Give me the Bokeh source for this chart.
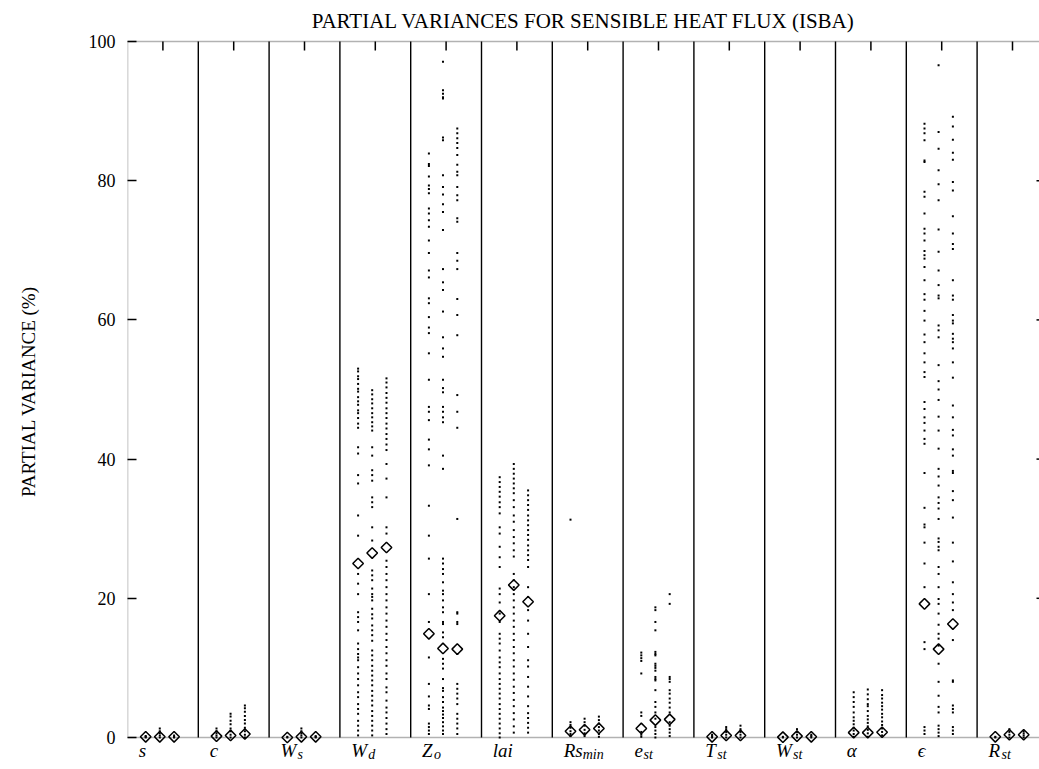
import numpy as np
from bokeh.plotting import figure
from bokeh.models import Range1d, LinearAxis, FixedTicker, BoxAnnotation
from bokeh.core.properties import value
from bokeh.embed import file_html
from bokeh.resources import INLINE

# ---------------- data ----------------
title_text = "PARTIAL VARIANCES FOR SENSIBLE HEAT FLUX (ISBA)"
y_label = "PARTIAL VARIANCE (%)"
y_ticks = [0, 20, 40, 60, 80, 100]

# parameter symbols (main part, subscript)
param_main = ["s", "c", "W", "W", "Z", "lai", "Rs", "e", "T", "W", "α", "ϵ", "R"]
param_sub = ["", "", "s", "d", "o", "", "min", "st", "st", "st", "", "", "st"]

# mean partial variance (diamonds), three runs per parameter
mean_run1 = [0.1, 0.2, 0.0, 25.0, 14.9, 17.5, 0.9, 1.3, 0.1, 0.05, 0.7, 19.2, 0.1]
mean_run2 = [0.1, 0.3, 0.1, 26.5, 12.8, 21.9, 1.1, 2.5, 0.3, 0.2, 0.7, 12.7, 0.4]
mean_run3 = [0.1, 0.5, 0.1, 27.3, 12.7, 19.5, 1.3, 2.6, 0.3, 0.1, 0.75, 16.3, 0.4]

# individual partial variances (dots), three runs per parameter
s_dots = [[0.0, 0.1, 0.2], [0.0, 0.3, 0.6, 0.9, 1.3], [0.0, 0.1, 0.3]]
c_dots = [[0.0, 0.3, 0.6, 0.9, 1.3],
          [0.0, 0.4, 0.9, 1.3, 1.9, 2.4, 3.0, 3.4],
          [0.0, 0.4, 0.9, 1.4, 2.0, 2.5, 3.1, 3.7, 4.2, 4.6]]
Ws_dots = [[0.0, 0.1], [0.0, 0.3, 0.6, 0.9, 1.3], [0.0, 0.1, 0.2]]
Wd_dots = [
    [53.0, 52.6, 51.9, 51.5, 50.8, 50.1, 49.7, 48.9, 48.3, 47.8, 47.0, 46.6, 45.9, 45.1, 44.5,
     41.7, 40.8, 37.7, 36.5, 31.9, 29.0, 23.5, 22.1, 20.6, 18.0, 17.3, 16.6, 15.4, 13.5, 12.7,
     12.0, 11.5, 11.1, 10.1, 9.2, 8.4, 7.5, 6.5, 5.8, 4.8, 4.1, 3.4, 2.4, 1.7, 1.0, 0.3],
    [49.9, 49.3, 48.6, 48.0, 47.3, 46.6, 46.0, 45.3, 44.7, 44.1, 41.7, 40.5, 38.4, 37.7, 36.9,
     34.5, 33.8, 33.1, 30.2, 28.3, 24.0, 23.3, 22.6, 21.4, 20.6, 20.2, 19.7, 18.5, 17.7, 17.1,
     16.1, 15.4, 14.7, 13.9, 12.5, 11.8, 11.1, 10.3, 9.6, 8.9, 8.2, 7.5, 6.7, 6.0, 5.3, 4.6,
     3.8, 3.1, 2.4, 1.7, 1.0, 0.3],
    [51.6, 51.0, 50.3, 49.5, 48.8, 48.1, 47.3, 46.6, 45.9, 45.1, 44.4, 43.6, 42.9, 42.1, 41.3,
     39.3, 37.2, 34.5, 30.2, 29.3, 25.4, 24.5, 23.5, 22.6, 21.6, 20.6, 19.7, 18.7, 17.8, 16.8,
     15.9, 14.9, 14.0, 13.0, 12.1, 11.1, 10.3, 9.2, 8.4, 7.2, 6.5, 5.3, 4.3, 3.6, 2.8, 2.0, 1.2, 0.5],
]
Zo_dots = [
    [83.9, 82.4, 82.1, 80.6, 79.3, 78.8, 78.2, 76.0, 75.3, 74.3, 73.4, 71.4, 69.6, 67.1, 66.1,
     63.1, 62.4, 60.4, 58.9, 58.1, 55.2, 51.4, 47.5, 46.8, 45.6, 42.8, 41.4, 39.1, 33.3, 29.0,
     25.7, 20.6, 16.6, 11.5, 7.7, 5.9, 4.6, 4.1, 2.0, 1.5, 1.0, 0.5],
    [97.1, 93.0, 92.5, 92.0, 91.8, 86.2, 85.8, 80.8, 79.1, 78.0, 76.6, 75.5, 72.9, 67.3, 65.4,
     64.3, 61.2, 57.5, 55.9, 54.7, 51.4, 50.2, 49.6, 47.5, 46.8, 46.0, 45.3, 40.5, 38.6, 25.7,
     25.0, 24.2, 23.5, 22.3, 21.1, 20.6, 19.7, 18.7, 18.0, 16.6, 16.3, 15.1, 14.4, 11.3, 10.6,
     9.9, 8.4, 7.1, 6.7, 5.8, 5.1, 4.3, 3.8, 3.3, 2.8, 2.2, 1.6, 1.0, 0.5],
    [87.5, 86.8, 86.1, 85.4, 84.7, 83.7, 82.3, 81.3, 80.8, 79.1, 77.9, 77.2, 74.6, 74.1, 69.6,
     68.5, 67.3, 63.0, 60.7, 57.8, 49.2, 46.8, 44.5, 31.4, 18.0, 17.8, 16.6, 16.3, 12.0, 7.7,
     7.0, 6.3, 5.6, 4.8, 3.4, 2.7, 2.0, 1.3, 0.5],
]
lai_dots = [
    [37.4, 36.7, 36.0, 35.3, 34.6, 33.8, 33.1, 32.2, 30.2, 29.3, 27.4, 25.9, 24.5, 21.4, 20.6,
     19.4, 17.8, 16.6, 14.9, 14.2, 13.5, 12.5, 11.5, 10.8, 10.1, 9.2, 8.4, 7.7, 7.0, 6.3, 5.6,
     4.8, 4.1, 3.4, 2.7, 2.0, 1.3, 0.6, 0.0],
    [39.3, 38.6, 37.9, 37.2, 36.5, 35.8, 35.1, 34.1, 33.1, 31.9, 31.0, 29.8, 28.8, 27.9, 26.9,
     26.0, 23.5, 22.6, 21.6, 20.6, 19.7, 18.7, 17.8, 16.8, 15.9, 14.9, 14.0, 13.0, 12.1, 11.1,
     10.2, 9.2, 8.3, 7.3, 6.4, 5.4, 4.5, 3.5, 2.6, 1.6, 0.7],
    [35.5, 34.8, 34.1, 33.4, 32.7, 31.9, 31.2, 30.5, 29.8, 29.1, 28.4, 27.6, 26.9, 26.2, 25.5,
     24.5, 21.6, 20.2, 18.3, 16.8, 14.9, 13.0, 11.1, 10.2, 8.7, 7.3, 5.9, 4.5, 3.5, 2.8, 2.1,
     1.4, 0.7],
]
Rsmin_dots = [[31.3, 2.2, 1.8, 1.4, 0.9, 0.5, 0.2],
              [2.7, 2.2, 1.7, 1.1, 0.6, 0.2],
              [3.0, 2.5, 2.0, 1.5, 1.0, 0.5, 0.1]]
est_dots = [[12.2, 11.8, 11.4, 11.0, 9.2, 3.6, 3.1, 0.8, 0.4, 0.1],
            [18.7, 18.3, 16.6, 15.4, 12.3, 12.0, 11.8, 10.6, 10.3, 10.0, 9.6, 8.7, 8.4, 8.2,
             6.8, 5.1, 4.4, 3.6, 2.7, 1.5, 1.0, 0.5, 0.0],
            [20.6, 19.2, 8.7, 8.4, 8.0, 6.8, 6.3, 5.6, 5.0, 4.3, 3.6, 2.2, 1.7, 1.2, 0.7, 0.2]]
Tst_dots = [[0.0, 0.2, 0.4], [0.0, 0.4, 0.8, 1.2, 1.5], [0.0, 0.4, 0.8, 1.2, 1.7]]
Wst_dots = [[0.0, 0.1], [0.0, 0.4, 0.8, 1.2], [0.0, 0.2, 0.4]]
alpha_dots = [[6.5, 5.8, 5.1, 4.4, 3.6, 2.9, 2.4, 1.9, 1.4, 1.0, 0.5, 0.1],
              [6.9, 6.2, 5.5, 4.8, 4.5, 3.8, 3.1, 2.6, 2.1, 1.6, 1.1, 0.6, 0.1],
              [6.8, 6.1, 5.6, 5.0, 4.5, 4.0, 3.4, 2.9, 2.3, 1.8, 1.3, 0.8, 0.3]]
eps_dots = [
    [88.2, 87.5, 86.8, 85.8, 82.9, 82.7, 78.4, 77.7, 75.3, 73.1, 72.4, 71.4, 69.9, 69.3, 68.8,
     67.6, 65.7, 63.7, 62.9, 61.3, 59.9, 57.9, 56.8, 55.2, 53.9, 52.5, 51.8, 48.2, 47.2, 46.0,
     45.2, 44.1, 42.9, 42.2, 38.0, 33.0, 30.6, 30.2, 28.0, 25.0, 21.6, 13.7, 12.7, 1.5, 1.0, 0.5],
    [96.6, 87.0, 84.6, 81.5, 79.5, 77.2, 73.0, 69.8, 67.1, 65.0, 63.5, 63.1, 59.2, 58.5, 57.5,
     53.5, 51.2, 50.0, 48.5, 46.1, 44.1, 41.5, 38.6, 37.5, 36.2, 34.5, 33.7, 32.9, 31.4, 28.6,
     28.1, 27.4, 26.9, 24.5, 23.5, 21.6, 19.9, 19.2, 17.8, 16.2, 14.9, 14.2, 13.2, 10.6, 8.0,
     6.0, 4.4, 3.6, 1.7, 1.2, 0.7, 0.2],
    [89.2, 87.8, 85.9, 84.0, 83.0, 79.8, 78.6, 74.9, 72.4, 70.9, 70.2, 65.7, 63.5, 62.9, 60.7,
     59.9, 59.5, 58.0, 57.3, 56.8, 55.9, 53.9, 51.7, 47.7, 46.0, 44.2, 43.4, 41.4, 40.5, 38.3,
     38.0, 35.4, 34.1, 31.6, 28.0, 25.3, 22.3, 20.6, 19.4, 18.3, 14.0, 8.2, 8.0, 4.6, 4.1, 3.6,
     1.5, 1.0, 0.5],
]
Rst_dots = [[0.0, 0.1], [0.0, 0.4, 0.8, 1.2], [0.0, 0.3, 0.6, 0.9]]

all_dots = [s_dots, c_dots, Ws_dots, Wd_dots, Zo_dots, lai_dots, Rsmin_dots,
            est_dots, Tst_dots, Wst_dots, alpha_dots, eps_dots, Rst_dots]

# ---------------- layout ----------------
W, H = 1039, 769
frame_left = 127
top_px = 41          # pixel row of the 100 % line
canvas_top = 13      # frame begins here so the y-title centres on the 0..100 span
panel_px = 70.8
px_per_unit = 6.96
n = len(param_main)
col_offsets = [-0.243, -0.044, 0.158]
x_end = 0.5 + (W - frame_left) / panel_px
y_start = -(H - top_px - 100 * px_per_unit) / px_per_unit
y_end = 100 + (top_px - canvas_top) / px_per_unit
serif = "Liberation Serif"

p = figure(width=W, height=H, x_range=Range1d(0.5, x_end), y_range=Range1d(y_start, y_end),
           output_backend="svg", toolbar_location=None,
           x_axis_type=None, y_axis_type=None,
           min_border_left=frame_left, min_border_right=0,
           min_border_top=canvas_top, min_border_bottom=0)
p.title = None
p.outline_line_color = None
p.background_fill_color = "white"
p.border_fill_color = "white"

# left axis
ax_l = LinearAxis(ticker=FixedTicker(ticks=y_ticks), axis_label=y_label)
ax_l.axis_line_color = None
ax_l.major_tick_in = 9
ax_l.major_tick_out = 0
ax_l.major_tick_line_width = 1.5
ax_l.major_tick_line_color = "black"
ax_l.minor_tick_line_color = None
ax_l.major_label_text_font = serif
ax_l.major_label_text_font_size = "18px"
ax_l.major_label_text_color = "black"
ax_l.major_label_standoff = 12
ax_l.axis_label_text_font = serif
ax_l.axis_label_text_font_size = "19px"
ax_l.axis_label_text_font_style = "normal"
ax_l.axis_label_text_color = "black"
ax_l.axis_label_standoff = 47
p.add_layout(ax_l, "left")

# chart title (drawn above the 100 % line)
p.text(x=[(0.5 + x_end) / 2], y=[100 + (top_px - 20.5) / px_per_unit], text=[title_text],
       text_font=value(serif), text_font_size="21px", text_align="center",
       text_baseline="alphabetic", text_color="black")

# frame box (left, top and bottom borders)
p.add_layout(BoxAnnotation(left=0.5, right=n + 0.5, bottom=0, top=100,
                           fill_alpha=0, line_color="black", line_width=1.6))

# panel separators
sep_x = [i + 0.5 for i in range(1, n)]
p.segment(x0=sep_x, y0=[0] * len(sep_x), x1=sep_x, y1=[100] * len(sep_x),
          line_color="black", line_width=1.4)

# inward ticks on top border (panel centres) and right border
tick_len = 9 / px_per_unit
top_x = list(range(1, n + 1))
p.segment(x0=top_x, y0=[100 - tick_len] * n, x1=top_x, y1=[100] * n,
          line_color="black", line_width=1.5)
rt = y_ticks[1:-1]
p.segment(x0=[x_end - 3 / panel_px] * len(rt), y0=rt, x1=[x_end] * len(rt), y1=rt,
          line_color="black", line_width=1.5)

# dots
xs, ys = [], []
for i, cols in enumerate(all_dots):
    for j, vals in enumerate(cols):
        xs += [i + 1 + col_offsets[j]] * len(vals)
        ys += list(vals)
p.scatter(x=xs, y=ys, marker="square", size=2, fill_color="black", line_color=None)

# means
for j, means in enumerate([mean_run1, mean_run2, mean_run3]):
    mx = [i + 1 + col_offsets[j] for i in range(n)]
    p.scatter(x=mx, y=means, marker="square", angle=np.pi / 4, size=7.5,
              fill_color=None, line_color="black", line_width=1.5)

# x labels (symbol + subscript) below the baseline
sub_shift = {"W": 17, "Z": 12, "Rs": 19, "e": 9, "T": 12, "R": 13}
label_x = [i + 1 - 0.34 for i in range(n)]
main_y = -12.5 / px_per_unit
sub_y = -17.0 / px_per_unit
p.text(x=label_x, y=[main_y] * n, text=param_main, text_font=value(serif),
       text_font_style="italic", text_font_size="19px", text_baseline="alphabetic",
       text_align="left", text_color="black")
sub_idx = [i for i in range(n) if param_sub[i]]
p.text(x=[label_x[i] for i in sub_idx], y=[sub_y] * len(sub_idx),
       text=[param_sub[i] for i in sub_idx],
       x_offset=[sub_shift[param_main[i]] for i in sub_idx],
       text_font=value(serif), text_font_style="italic", text_font_size="14px",
       text_baseline="alphabetic", text_align="left", text_color="black")

open("out.html", "w").write(file_html(p, INLINE))
